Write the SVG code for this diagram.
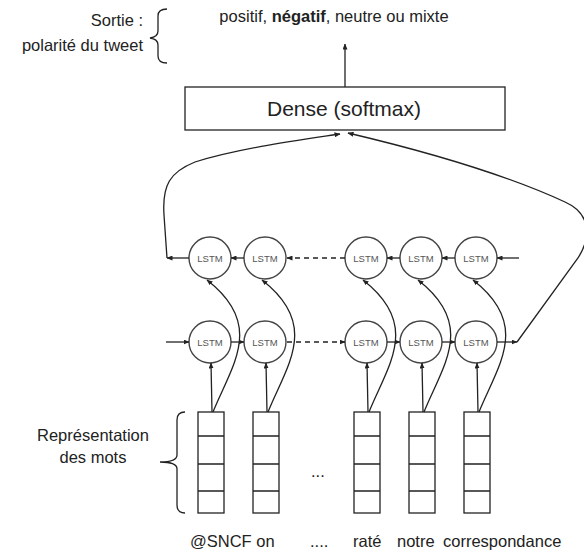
<svg xmlns="http://www.w3.org/2000/svg" width="584" height="555" viewBox="0 0 584 555">
<style>
text{font-family:"Liberation Sans",Arial,sans-serif;fill:#222}
.lbl{font-size:16.5px}
.lstm{font-size:9.5px;fill:#555;text-anchor:middle}
.c{fill:#fff;stroke:#444;stroke-width:1.4}
.box{fill:#fff;stroke:#222;stroke-width:1.3}
.ln{fill:none;stroke:#222;stroke-width:1.3}
.ar{fill:none;stroke:#222;stroke-width:1.3;marker-end:url(#ah)}
.da{stroke-dasharray:5 4}
</style>
<defs>
<marker id="ah" markerWidth="6" markerHeight="5" refX="5.5" refY="2.5" orient="auto" markerUnits="userSpaceOnUse">
<path d="M0,0 L6,2.5 L0,5 Z" fill="#222"/>
</marker>
</defs>
<rect width="584" height="555" fill="#fff"/>

<g id="sortie">
<text class="lbl" x="143" y="26" text-anchor="end">Sortie :</text>
<text class="lbl" x="143" y="51" text-anchor="end">polarité du tweet</text>
<path class="ln" d="M167,9 Q158,9 158,16 L158,31 Q158,37 150,38 Q158,39 158,45 L158,56 Q158,63 167,63"/>
</g>
<g id="output">
<text class="lbl" x="334" y="22" text-anchor="middle">positif, <tspan font-weight="bold">négatif</tspan>, neutre ou mixte</text>
</g>
<g id="dense">
<rect class="box" x="185" y="87" width="320" height="43"/>
<text x="344" y="116" text-anchor="middle" font-size="21">Dense (softmax)</text>
</g>

<g id="lstm-bwd">
<g id="b1"><circle class="c" cx="210" cy="258" r="21"/><text class="lstm" x="210" y="261.5">LSTM</text></g>
<g id="b2"><circle class="c" cx="265" cy="258" r="21"/><text class="lstm" x="265" y="261.5">LSTM</text></g>
<g id="b3"><circle class="c" cx="366" cy="258" r="21"/><text class="lstm" x="366" y="261.5">LSTM</text></g>
<g id="b4"><circle class="c" cx="421" cy="258" r="21"/><text class="lstm" x="421" y="261.5">LSTM</text></g>
<g id="b5"><circle class="c" cx="476" cy="258" r="21"/><text class="lstm" x="476" y="261.5">LSTM</text></g>
</g>
<g id="lstm-fwd">
<g id="f1"><circle class="c" cx="210" cy="342" r="21"/><text class="lstm" x="210" y="345.5">LSTM</text></g>
<g id="f2"><circle class="c" cx="265" cy="342" r="21"/><text class="lstm" x="265" y="345.5">LSTM</text></g>
<g id="f3"><circle class="c" cx="366" cy="342" r="21"/><text class="lstm" x="366" y="345.5">LSTM</text></g>
<g id="f4"><circle class="c" cx="421" cy="342" r="21"/><text class="lstm" x="421" y="345.5">LSTM</text></g>
<g id="f5"><circle class="c" cx="476" cy="342" r="21"/><text class="lstm" x="476" y="345.5">LSTM</text></g>
</g>

<g id="words">
<g id="w1"><rect class="box" x="198" y="412" width="26" height="101"/><path class="ln" d="M198,436H224M198,464H224M198,491H224"/></g>
<g id="w2"><rect class="box" x="253" y="412" width="26" height="101"/><path class="ln" d="M253,436H279M253,464H279M253,491H279"/></g>
<g id="w3"><rect class="box" x="354" y="412" width="26" height="101"/><path class="ln" d="M354,436H380M354,464H380M354,491H380"/></g>
<g id="w4"><rect class="box" x="409" y="412" width="26" height="101"/><path class="ln" d="M409,436H435M409,464H435M409,491H435"/></g>
<g id="w5"><rect class="box" x="464" y="412" width="26" height="101"/><path class="ln" d="M464,436H490M464,464H490M464,491H490"/></g>
</g>

<g id="repr">
<text class="lbl" x="93" y="441" text-anchor="middle">Représentation</text>
<text class="lbl" x="93" y="463" text-anchor="middle">des mots</text>
<path class="ln" d="M185,412 Q177,412 177,420 L177,455 Q177,462 160,462 Q177,462 177,469 L177,505 Q177,513 185,513"/>
<text class="lbl" x="311" y="477">...</text>
</g>

<g id="tokens">
<text class="lbl" x="190" y="547" font-size="15.5">@SNCF on</text>
<text class="lbl" x="310" y="547">....</text>
<text class="lbl" x="353" y="547">raté</text>
<text class="lbl" x="397" y="547">notre</text>
<text class="lbl" x="443" y="547">correspondance</text>
</g>

<g id="connectors">
<line class="ar" x1="345" y1="87" x2="345" y2="44"/>
<line class="ar" x1="166" y1="342" x2="189" y2="342"/>
<line class="ar" x1="231" y1="342" x2="244" y2="342"/>
<line class="ar da" x1="287" y1="342" x2="345" y2="342"/>
<line class="ar" x1="387" y1="342" x2="400" y2="342"/>
<line class="ar" x1="442" y1="342" x2="455" y2="342"/>
<line class="ar" x1="497" y1="342" x2="517" y2="342"/>
<line class="ar" x1="519" y1="258" x2="497" y2="258"/>
<line class="ar" x1="455" y1="258" x2="442" y2="258"/>
<line class="ar" x1="400" y1="258" x2="387" y2="258"/>
<line class="ar da" x1="345" y1="258" x2="287" y2="258"/>
<line class="ar" x1="244" y1="258" x2="231" y2="258"/>
<line class="ar" x1="189" y1="258" x2="167" y2="258"/>
<path class="ar" d="M167,258 L164,215 C162,185 170,172 195,162 C240,148 300,140 340,134"/>
<path class="ar" d="M517,342 L578,258 C592,236 590,213 565,202 C500,172 420,150 348,133"/>
<line class="ar" x1="212" y1="412" x2="211" y2="363"/>
<line class="ar" x1="267" y1="412" x2="266" y2="363"/>
<line class="ar" x1="368" y1="412" x2="367" y2="363"/>
<line class="ar" x1="423" y1="412" x2="422" y2="363"/>
<line class="ar" x1="478" y1="412" x2="477" y2="363"/>
<path class="ar" d="M213,412 C232,365 265,325 207,280"/>
<path class="ar" d="M268,412 C287,365 320,325 262,280"/>
<path class="ar" d="M369,412 C388,365 421,325 363,280"/>
<path class="ar" d="M424,412 C443,365 476,325 418,280"/>
<path class="ar" d="M479,412 C498,365 531,325 473,280"/>
</g>
</svg>
